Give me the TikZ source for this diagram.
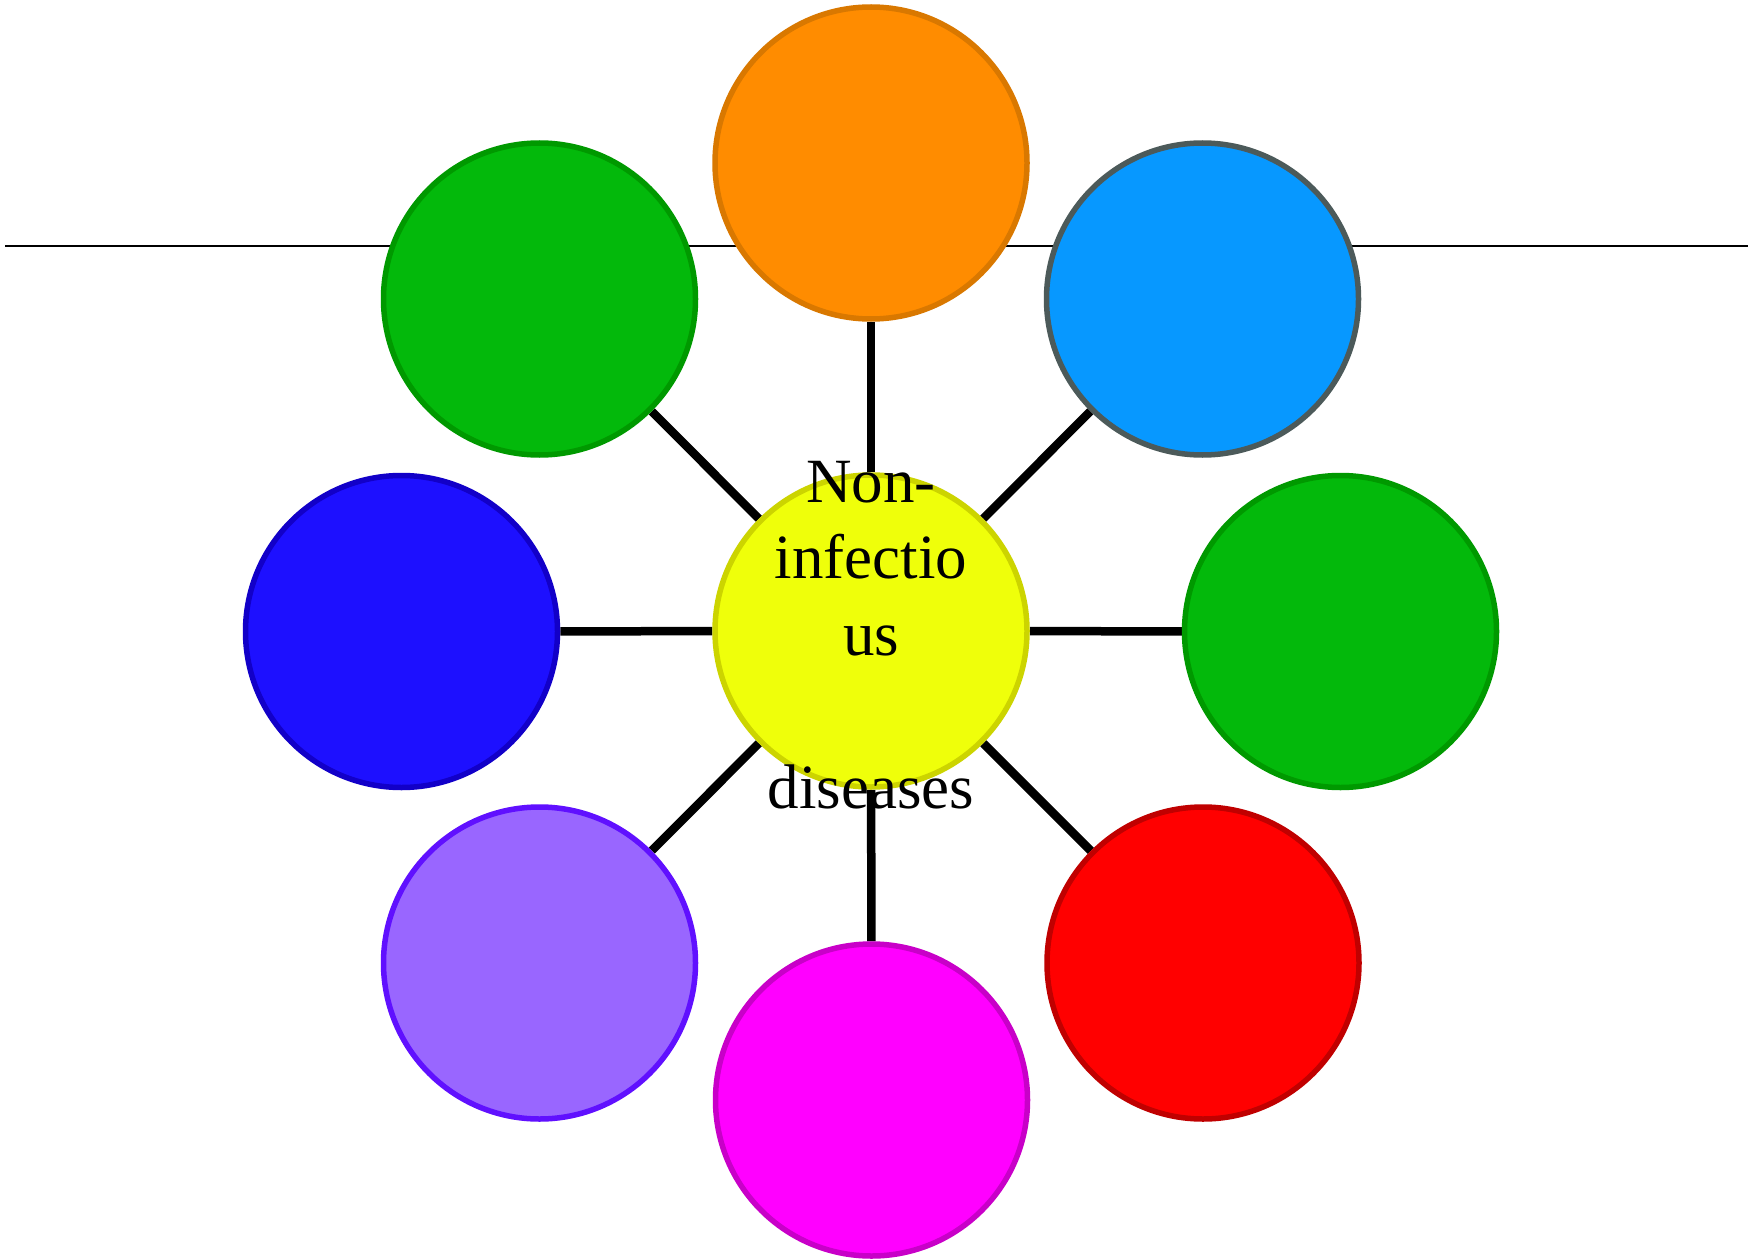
\documentclass[tikz,border=0pt]{standalone}
\usepackage{fontspec}
\setmainfont{Liberation Serif}
\pgfdeclarelayer{background}
\pgfsetlayers{background,main}
\definecolor{yelF}{HTML}{EFFF0A}
\definecolor{yelB}{HTML}{CCD400}
\definecolor{orF}{HTML}{FF8C00}
\definecolor{orB}{HTML}{D97800}
\definecolor{skyF}{HTML}{0798FF}
\definecolor{skyB}{HTML}{4C5A5A}
\definecolor{grF}{HTML}{03B90B}
\definecolor{grB}{HTML}{009900}
\definecolor{blF}{HTML}{1D10FF}
\definecolor{blB}{HTML}{1200C8}
\definecolor{puF}{HTML}{9966FF}
\definecolor{puB}{HTML}{6010FF}
\definecolor{maF}{HTML}{FF00FF}
\definecolor{maB}{HTML}{C800C8}
\definecolor{reF}{HTML}{FF0000}
\definecolor{reB}{HTML}{C00000}
\tikzset{
  bubble/.style={circle, minimum size=312pt, inner sep=0pt, line width=5.5pt},
  spoke/.style={line width=8.5pt, black},
  rule/.style={line width=2.4pt, black},
  lbl/.style={anchor=base, inner sep=0pt, font=\fontsize{63}{76}\selectfont}
}
\begin{document}
\begin{tikzpicture}[x=1pt,y=-1pt]
\useasboundingbox (0,0) rectangle (1748,1260);
\coordinate (hl) at (5,245.7);
\coordinate (hr) at (1748,245.7);
\node[bubble, fill=yelF, draw=yelB] (c) at (871,631) {};
\node[bubble, fill=orF, draw=orB] (n) at (871,163) {};
\node[bubble, fill=skyF, draw=skyB] (ne) at (1202.5,299) {};
\node[bubble, fill=grF, draw=grB] (e) at (1340.5,631.5) {};
\node[bubble, fill=reF, draw=reB] (se) at (1203,963) {};
\node[bubble, fill=maF, draw=maB] (s) at (871.5,1100) {};
\node[bubble, fill=puF, draw=puB] (sw) at (539.5,963) {};
\node[bubble, fill=blF, draw=blB] (w) at (401.5,631.5) {};
\node[bubble, fill=grF, draw=grB] (nw) at (539.5,299) {};
\begin{pgfonlayer}{background}
\draw[rule] (hl) -- (hr);
\foreach \t in {n,ne,e,se,s,sw,w,nw} \draw[spoke] (c) -- (\t);
\end{pgfonlayer}
\node[lbl] (l1) at (871,502) {Non-};
\node[lbl] (l2) at (871,578) {infectio};
\node[lbl] (l3) at (871,655) {us};
\node[lbl] (l4) at (871,808) {diseases};
\end{tikzpicture}
\end{document}
